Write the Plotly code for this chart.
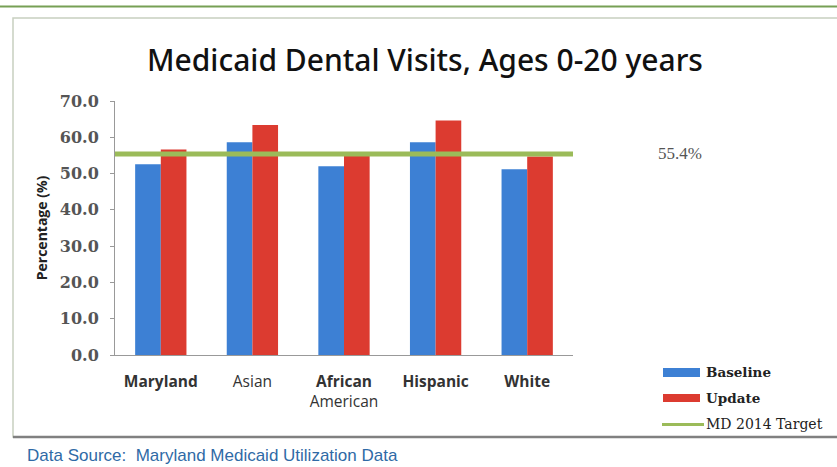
import plotly.graph_objects as go

categories = ["Maryland", "Asian", "African American", "Hispanic", "White"]
tick_labels = ["<b>Maryland</b>", "Asian", "<b>African</b><br>American", "<b>Hispanic</b>", "<b>White</b>"]
baseline = [52.6, 58.6, 52.0, 58.6, 51.2]
update = [56.6, 63.4, 54.9, 64.6, 54.7]
target = 55.4
target_label = "55.4%"

W, H = 837, 467
L, R, T, B = 115, 573, 101, 355  # plot area in pixels


def px(x):
    return (x - L) / (R - L)


def py(y):
    return (B - y) / (B - T)


BLUE = "#3d80d4"
RED = "#dc3b30"
GREEN = "#9bbb59"

fig = go.Figure()
fig.add_trace(go.Bar(x=categories, y=baseline, name="Baseline", marker=dict(color=BLUE, line=dict(width=0)), showlegend=False))
fig.add_trace(go.Bar(x=categories, y=update, name="Update", marker=dict(color=RED, line=dict(width=0)), showlegend=False))

shapes = []
# outer frame
shapes.append(dict(type="rect", xref="paper", yref="paper", x0=px(13), x1=px(845), y0=py(437), y1=py(18),
                   line=dict(color="#c8d0c0", width=1.5), fillcolor="rgba(0,0,0,0)", layer="below"))
shapes.append(dict(type="line", xref="paper", yref="paper", x0=px(13), x1=px(845), y0=py(437), y1=py(437),
                   line=dict(color="#808080", width=2.5)))
shapes.append(dict(type="line", xref="paper", yref="paper", x0=px(-5), x1=px(845), y0=py(6.5), y1=py(6.5),
                   line=dict(color="#77a055", width=2)))
# target line
shapes.append(dict(type="line", xref="x domain", yref="y", x0=0, x1=1, y0=target, y1=target,
                   line=dict(color=GREEN, width=5)))
# legend swatches
shapes.append(dict(type="rect", xref="paper", yref="paper", x0=px(663), x1=px(700), y0=py(377), y1=py(368),
                   fillcolor=BLUE, line=dict(width=0)))
shapes.append(dict(type="rect", xref="paper", yref="paper", x0=px(663), x1=px(700), y0=py(402), y1=py(394),
                   fillcolor=RED, line=dict(width=0)))
shapes.append(dict(type="line", xref="paper", yref="paper", x0=px(662), x1=px(704), y0=py(424.5), y1=py(424.5),
                   line=dict(color=GREEN, width=3)))

annotations = []
for text, yy, sz in [("<b>Baseline</b>", 372, 13.5), ("<b>Update</b>", 398, 13.5), ("MD 2014 Target", 424, 14)]:
    annotations.append(dict(text=text, xref="paper", yref="paper", x=px(704), y=py(yy), xanchor="left",
                            yanchor="middle", showarrow=False,
                            font=dict(family="DejaVu Serif", size=sz, color="#222")))
annotations.append(dict(text=target_label, xref="paper", yref="y", x=px(656), y=target, xanchor="left",
                        yanchor="middle", showarrow=False,
                        font=dict(family="Liberation Serif", size=17, color="#555")))
annotations.append(dict(text="Medicaid Dental Visits, Ages 0-20 years", xref="paper", yref="paper",
                        x=px(425), y=py(59), xanchor="center", yanchor="middle", showarrow=False,
                        font=dict(family="Noto Sans", size=30, color="#111", weight=500)))
annotations.append(dict(text="Data Source:  Maryland Medicaid Utilization Data", xref="paper", yref="paper",
                        x=px(25), y=py(455), xanchor="left", yanchor="middle", showarrow=False,
                        font=dict(family="Liberation Sans", size=17, color="#2f6aa6")))

fig.update_layout(
    width=W, height=H,
    margin=dict(l=L, r=W - R, t=T, b=H - B, pad=0),
    paper_bgcolor="white", plot_bgcolor="white",
    barmode="group", bargap=0.44, bargroupgap=0,
    shapes=shapes, annotations=annotations, showlegend=False,
    xaxis=dict(tickvals=categories, ticktext=tick_labels, showline=True, linecolor="#999", linewidth=1,
               showgrid=False, ticks="", ticklabelstandoff=12,
               tickfont=dict(family="Open Sans", size=15.5, color="#333"),
               range=[-0.5, 4.5]),
    yaxis=dict(range=[0, 70], dtick=10, tickformat=".1f", showline=True, linecolor="#999", linewidth=1,
               showgrid=False, zeroline=False, ticks="outside", ticklen=4, tickcolor="#999",
               ticklabelstandoff=8,
               tickfont=dict(family="DejaVu Serif", size=16, color="#555", weight="bold"),
               title=dict(text="<b>Percentage (%)</b>", font=dict(family="Open Sans", size=14, color="#222"),
                          standoff=8)),
)

fig.write_html("out.html")
